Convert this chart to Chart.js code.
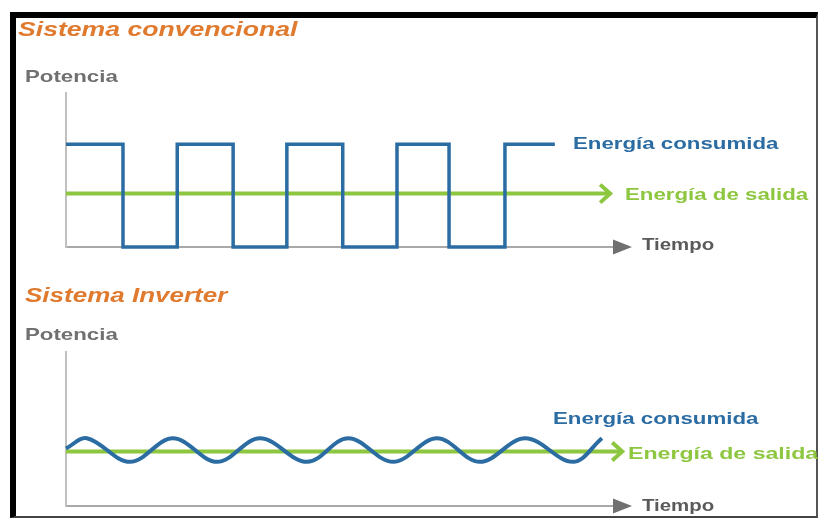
<!DOCTYPE html>
<html>
<head>
<meta charset="utf-8">
<script src="https://cdn.jsdelivr.net/npm/chart.js@4/dist/chart.umd.min.js"></script>
<style>
  body { margin: 0; width: 819px; height: 518px; background: #fff; position: relative; overflow: hidden; }
  #marco { position: absolute; left: 10px; top: 12px; width: 800px; height: 498px;
           border-top: 6px solid #000; border-left: 6px solid #000;
           border-right: 2px solid #555; border-bottom: 2px solid #444; }
  canvas { position: absolute; left: 0; }
  .txt { position: absolute; font-family: "Liberation Sans", Arial, sans-serif; font-weight: bold;
         line-height: 1; white-space: nowrap; transform-origin: 0 0; transform: scaleX(1.31); }
  .titulo { font-size: 20px; font-style: italic; color: #e07a2e; }
  .pot { font-size: 17px; color: #707070; }
  .cons { font-size: 17px; color: #2b6ca3; }
  .sal { font-size: 17px; color: #8dc63f; }
  .tiempo { font-size: 17px; color: #5a5a5a; transform: scaleX(1.2); }
</style>
</head>
<body>
<div id="marco"></div>
<canvas id="grafica-convencional" width="819" height="260" style="top:0"></canvas>
<canvas id="grafica-inverter" width="819" height="258" style="top:260px"></canvas>

<div class="txt titulo" style="left:18px; top:19px; transform:scaleX(1.33)">Sistema convencional</div>
<div class="txt pot" style="left:25px; top:68px">Potencia</div>
<div class="txt cons" style="left:573px; top:135px">Energía consumida</div>
<div class="txt sal" style="left:625px; top:186px">Energía de salida</div>
<div class="txt tiempo" style="left:642px; top:236px">Tiempo</div>

<div class="txt titulo" style="left:25px; top:285px; transform:scaleX(1.3)">Sistema Inverter</div>
<div class="txt pot" style="left:25px; top:326px">Potencia</div>
<div class="txt cons" style="left:553px; top:410px">Energía consumida</div>
<div class="txt sal" style="left:628px; top:445px; transform:scaleX(1.36)">Energía de salida</div>
<div class="txt tiempo" style="left:642px; top:497px">Tiempo</div>

<script>
// datos (tiempo en unidades arbitrarias, 0..10)
const convTiempo = [0, 1.04, 1.04, 2.03, 2.03, 3.05, 3.05, 4.03, 4.03, 5.05, 5.05, 6.04, 6.04, 6.99, 6.99, 8.01, 8.01, 8.92];
const convConsumida = [1, 1, 0, 0, 1, 1, 0, 0, 1, 1, 0, 0, 1, 1, 0, 0, 1, 1];
const convSalidaTiempo = [0, 9.93];
const convSalida = [0.52, 0.52];

// inverter: solo maximos y minimos de la onda
const invTiempo = [0, 0.38, 1.17, 1.95, 2.76, 3.54, 4.4, 5.15, 5.97, 6.77, 7.55, 8.38, 9.25, 9.78];
const invConsumida = [0.56, 0.66, 0.43, 0.66, 0.43, 0.66, 0.43, 0.66, 0.43, 0.66, 0.43, 0.66, 0.43, 0.66];
const invSalidaTiempo = [0, 10.15];
const invSalida = [0.53, 0.53];

const AZUL = '#2b6ca3';
const VERDE = '#8dc63f';

function puntos(xs, ys) {
    return xs.map((x, i) => ({ x: x, y: ys[i] }));
}

// flecha del eje x y punta de la linea de salida
const flechas = {
    id: 'flechas',
    afterDatasetsDraw(chart) {
        const ctx = chart.ctx;
        const area = chart.chartArea;
        ctx.save();
        ctx.fillStyle = '#707070';
        ctx.beginPath();
        ctx.moveTo(area.right - 1, area.bottom - 7.5);
        ctx.lineTo(area.right + 18, area.bottom);
        ctx.lineTo(area.right - 1, area.bottom + 7.5);
        ctx.closePath();
        ctx.fill();

        const meta = chart.getDatasetMeta(1);
        const ultimo = meta.data[meta.data.length - 1];
        ctx.strokeStyle = VERDE;
        ctx.lineWidth = 4;
        ctx.beginPath();
        ctx.moveTo(ultimo.x - 10, ultimo.y - 9);
        ctx.lineTo(ultimo.x, ultimo.y);
        ctx.lineTo(ultimo.x - 10, ultimo.y + 9);
        ctx.stroke();
        ctx.restore();
    }
};

function crearGrafica(id, consumida, salida, suave, padding) {
    const ctx = document.getElementById(id).getContext('2d');
    return new Chart(ctx, {
        type: 'line',
        data: {
            datasets: [{
                label: 'Energía consumida',
                data: consumida,
                borderColor: AZUL,
                borderWidth: suave ? 4 : 3.5,
                borderJoinStyle: 'miter',
                tension: suave ? 0.36 : 0,
                pointRadius: 0,
                clip: false
            }, {
                label: 'Energía de salida',
                data: salida,
                borderColor: VERDE,
                borderWidth: 4,
                pointRadius: 0,
                clip: false
            }]
        },
        options: {
            responsive: false,
            animation: false,
            events: [],
            layout: { padding: padding },
            plugins: { legend: { display: false }, tooltip: { enabled: false } },
            scales: {
                x: {
                    type: 'linear', min: 0, max: 10,
                    ticks: { display: false },
                    grid: { display: false, drawTicks: false },
                    border: { display: true, color: '#a8a8a8', width: 2 }
                },
                y: {
                    min: 0, max: 1.5,
                    ticks: { display: false },
                    grid: { display: false, drawTicks: false },
                    border: { display: true, color: '#c0c0c0', width: 2 }
                }
            }
        },
        plugins: [flechas]
    });
}

crearGrafica('grafica-convencional',
    puntos(convTiempo, convConsumida),
    puntos(convSalidaTiempo, convSalida),
    false,
    { left: 66, right: 205, top: 93, bottom: 13 });

crearGrafica('grafica-inverter',
    puntos(invTiempo, invConsumida),
    puntos(invSalidaTiempo, invSalida),
    true,
    { left: 66, right: 205, top: 92, bottom: 12 });
</script>
</body>
</html>
